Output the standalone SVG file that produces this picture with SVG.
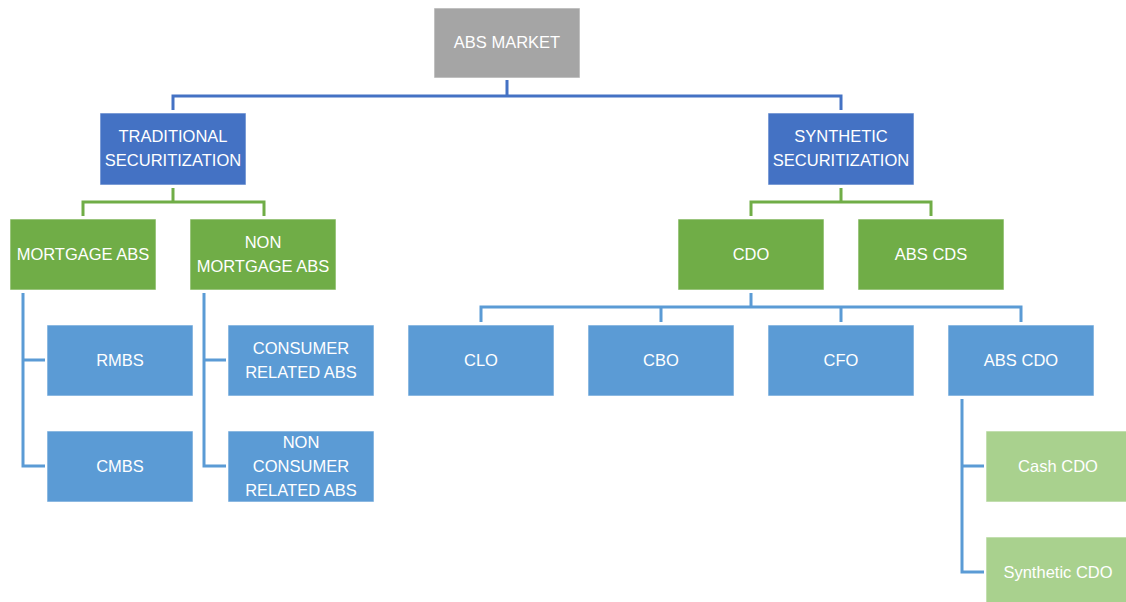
<svg xmlns="http://www.w3.org/2000/svg" width="1126" height="602" viewBox="0 0 1126 602">
<style>
.box{stroke:#ffffff;stroke-opacity:0.6;stroke-width:1}
.gray{fill:#a5a5a5}
.dblue{fill:#4472c4}
.green{fill:#70ad47}
.lblue{fill:#5b9bd5}
.lgreen{fill:#a9d18e}
text{font-family:"Liberation Sans",Arial,sans-serif;font-size:16.5px;fill:#ffffff;text-anchor:middle}
.c1{fill:none;stroke:#4472c4;stroke-width:3}
.c2{fill:none;stroke:#70ad47;stroke-width:3}
.c3{fill:none;stroke:#5b9bd5;stroke-width:3}
</style>
<rect width="1126" height="602" fill="#ffffff"/>
<g id="connectors">
<path class="c1" d="M507,80 V96 M173,110 V96 H841 V110"/>
<path class="c2" d="M173,188 V202 M83,216 V202 H264 V216"/>
<path class="c2" d="M841,188 V202 M751,216 V202 H931 V216"/>
<path class="c3" d="M751,293 V307 M481,322 V307 H1021 V322 M661,307 V322 M841,307 V322"/>
<path class="c3" d="M23,293 V466 H45 M23,360 H45"/>
<path class="c3" d="M204,293 V466 H226 M204,360 H226"/>
<path class="c3" d="M962,399 V572 H984 M962,466 H984"/>
</g>
<g id="abs-market"><rect class="box gray" x="434" y="8" width="146" height="70"/><text x="507" y="48">ABS MARKET</text></g>
<g id="traditional"><rect class="box dblue" x="100" y="113" width="146" height="72"/><text x="173" y="142">TRADITIONAL</text><text x="173" y="166">SECURITIZATION</text></g>
<g id="synthetic"><rect class="box dblue" x="768" y="113" width="146" height="72"/><text x="841" y="142">SYNTHETIC</text><text x="841" y="166">SECURITIZATION</text></g>
<g id="mortgage-abs"><rect class="box green" x="10" y="219" width="146" height="71"/><text x="83" y="260">MORTGAGE ABS</text></g>
<g id="non-mortgage-abs"><rect class="box green" x="190" y="219" width="146" height="71"/><text x="263" y="248">NON</text><text x="263" y="272">MORTGAGE ABS</text></g>
<g id="cdo"><rect class="box green" x="678" y="219" width="146" height="71"/><text x="751" y="260">CDO</text></g>
<g id="abs-cds"><rect class="box green" x="858" y="219" width="146" height="71"/><text x="931" y="260">ABS CDS</text></g>
<g id="rmbs"><rect class="box lblue" x="47" y="325" width="146" height="71"/><text x="120" y="366">RMBS</text></g>
<g id="cmbs"><rect class="box lblue" x="47" y="431" width="146" height="71"/><text x="120" y="472">CMBS</text></g>
<g id="consumer-related-abs"><rect class="box lblue" x="228" y="325" width="146" height="71"/><text x="301" y="354">CONSUMER</text><text x="301" y="378">RELATED ABS</text></g>
<g id="non-consumer-related-abs"><rect class="box lblue" x="228" y="431" width="146" height="71"/><text x="301" y="448">NON</text><text x="301" y="472">CONSUMER</text><text x="301" y="496">RELATED ABS</text></g>
<g id="clo"><rect class="box lblue" x="408" y="325" width="146" height="71"/><text x="481" y="366">CLO</text></g>
<g id="cbo"><rect class="box lblue" x="588" y="325" width="146" height="71"/><text x="661" y="366">CBO</text></g>
<g id="cfo"><rect class="box lblue" x="768" y="325" width="146" height="71"/><text x="841" y="366">CFO</text></g>
<g id="abs-cdo"><rect class="box lblue" x="948" y="325" width="146" height="71"/><text x="1021" y="366">ABS CDO</text></g>
<g id="cash-cdo"><rect class="box lgreen" x="986" y="431" width="146" height="71"/><text x="1058" y="472">Cash CDO</text></g>
<g id="synthetic-cdo"><rect class="box lgreen" x="986" y="537" width="146" height="71"/><text x="1058" y="578">Synthetic CDO</text></g>
</svg>
